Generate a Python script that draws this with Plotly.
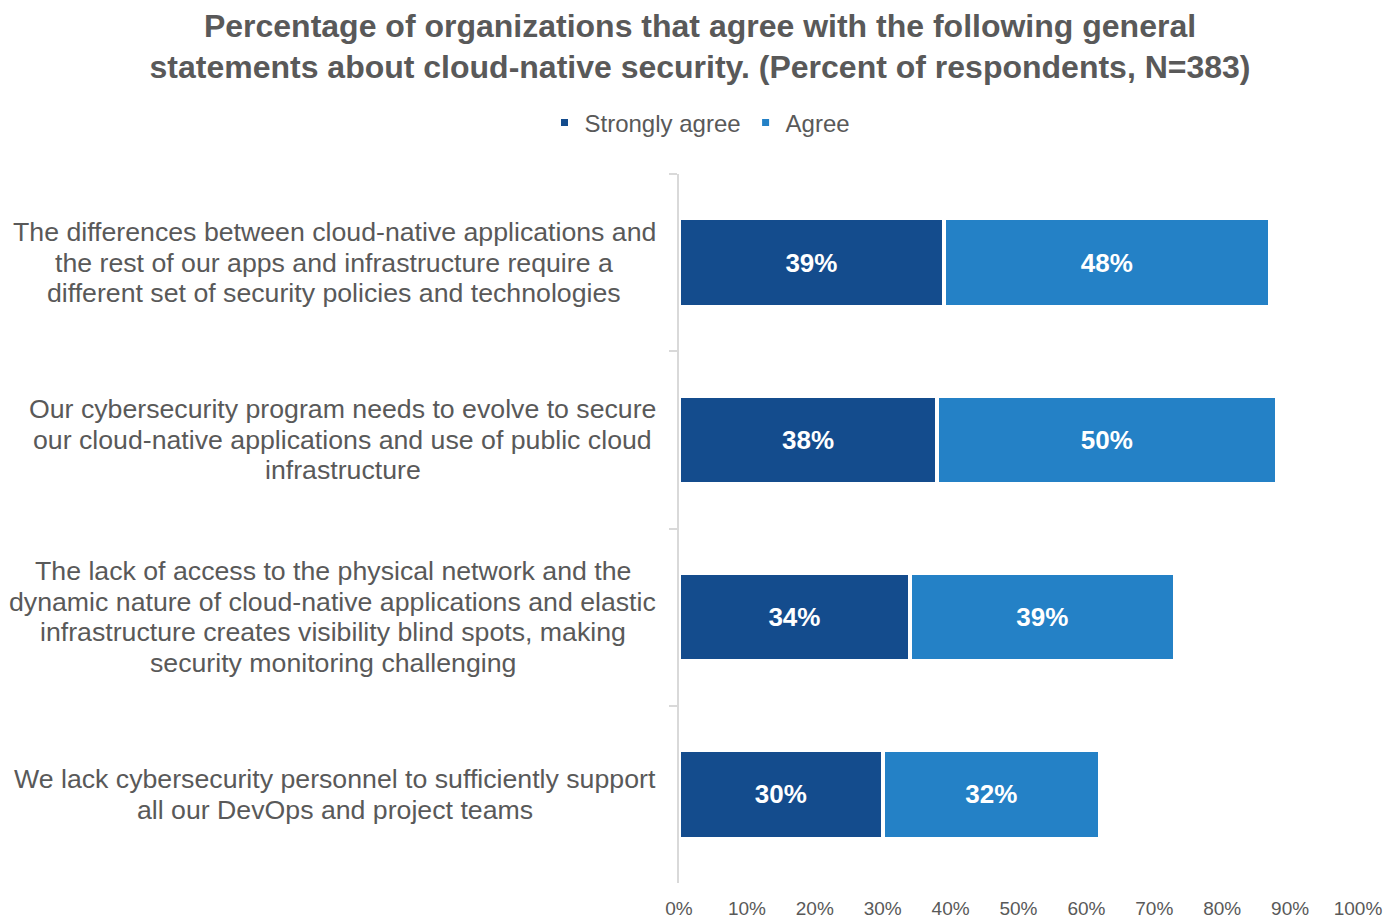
import plotly.graph_objects as go

category_lines = [
    ["The differences between cloud-native applications and",
     "the rest of our apps and infrastructure require a",
     "different set of security policies and technologies"],
    ["Our cybersecurity program needs to evolve to secure",
     "our cloud-native applications and use of public cloud",
     "infrastructure"],
    ["The lack of access to the physical network and the",
     "dynamic nature of cloud-native applications and elastic",
     "infrastructure creates visibility blind spots, making",
     "security monitoring challenging"],
    ["We lack cybersecurity personnel to sufficiently support",
     "all our DevOps and project teams"],
]
cat_keys = ["c1", "c2", "c3", "c4"]
strongly_agree = [39, 38, 34, 30]
agree = [48, 50, 39, 32]
series_names = ["Strongly agree", "Agree"]
x_ticks = [0, 10, 20, 30, 40, 50, 60, 70, 80, 90, 100]
x_tick_text = [f"{v}%" for v in x_ticks]

# layout: horizontal centre (pixels) of each category label block
label_centers_px = [334, 342.5, 332.5, 335]

DARK = "#144C8D"
LIGHT = "#2481C6"
GRAY = "#595959"
FONT = "Liberation Sans, Arial, sans-serif"

ML, MR, MT, MB = 679, 42, 174, 35
W, H = 1400, 918
PLOT_W = W - ML - MR

fig = go.Figure()
for name, vals, col in [(series_names[0], strongly_agree, DARK), (series_names[1], agree, LIGHT)]:
    fig.add_trace(go.Bar(
        y=cat_keys, x=vals, orientation="h", name=name,
        marker=dict(color=col, line=dict(color="white", width=4)),
        text=[f"{v}%" for v in vals],
        texttemplate="<b>%{text}</b>", textposition="inside",
        insidetextanchor="middle", textangle=0,
        textfont=dict(color="white", size=26, family=FONT),
        showlegend=False, hoverinfo="skip",
    ))
    # legend-only entry with small square marker
    fig.add_trace(go.Scatter(
        x=[None], y=[None], mode="markers", name=name,
        marker=dict(symbol="square", size=7, color=col),
        showlegend=True,
    ))

LINE_H = 30.5
for key, lines, cx in zip(cat_keys, category_lines, label_centers_px):
    n = len(lines)
    for i, line in enumerate(lines):
        fig.add_annotation(
            x=(cx - ML) / PLOT_W, xref="paper", y=key, yref="y",
            text=line, showarrow=False, xanchor="center", yanchor="middle",
            yshift=-(i - (n - 1) / 2) * LINE_H,
            font=dict(size=26.7, color=GRAY, family=FONT),
        )

fig.update_layout(
    barmode="stack",
    bargap=0.5,
    width=W, height=H,
    margin=dict(l=ML, r=MR, t=MT, b=MB),
    paper_bgcolor="white", plot_bgcolor="white",
    font=dict(family=FONT, color=GRAY),
    title=dict(
        text="<b>Percentage of organizations that agree with the following general<br>statements about cloud-native security. (Percent of respondents, N=383)</b>",
        x=0.5, xref="container", xanchor="center",
        y=1 - 36.5 / H, yref="container", yanchor="middle",
        font=dict(size=32, color=GRAY, family=FONT),
    ),
    legend=dict(
        orientation="h", xref="container", x=0.5, xanchor="center",
        yref="container", y=1 - 123 / H, yanchor="middle",
        font=dict(size=24, color=GRAY, family=FONT),
        traceorder="normal",
    ),
    xaxis=dict(
        range=[0, 100], tickvals=x_ticks, ticktext=x_tick_text,
        showgrid=False, zeroline=False, showline=False,
        tickfont=dict(size=19, color=GRAY, family=FONT),
        ticklabelstandoff=12, automargin=False,
    ),
    yaxis=dict(
        categoryorder="array", categoryarray=cat_keys, autorange="reversed",
        showticklabels=False, showgrid=False, zeroline=False,
        showline=True, linecolor="#D9D9D9", linewidth=2,
        ticks="outside", tickson="boundaries", ticklen=8,
        tickcolor="#D9D9D9", tickwidth=2, automargin=False,
    ),
)

fig.write_html("out.html")
